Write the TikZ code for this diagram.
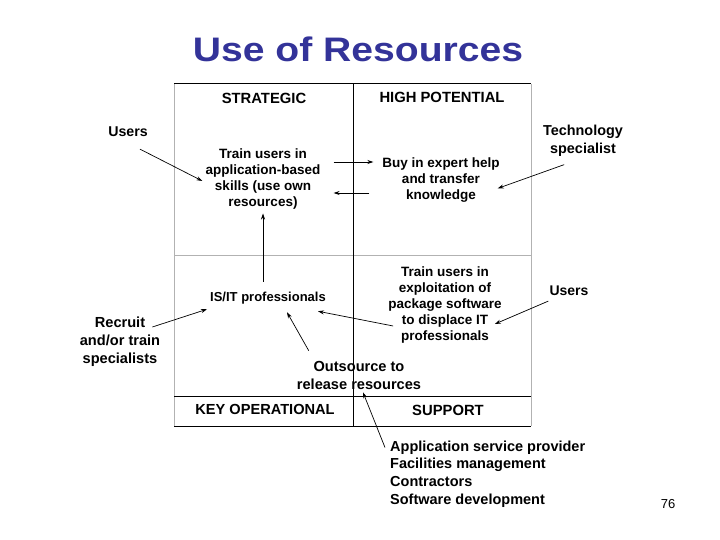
\documentclass[tikz,border=0pt]{standalone}
\usepackage{fontspec}
\setmainfont{Liberation Sans}
\usepackage{xcolor}
\usetikzlibrary{positioning, calc, arrows.meta}

\definecolor{titleblue}{RGB}{51,51,153}

\tikzset{
    lbl/.style={font=\fontsize{13.5}{16}\selectfont\bfseries, align=center, inner sep=1pt},
    lblwide/.style={lbl, font=\fontsize{14.6}{18}\selectfont\bfseries},
    heading/.style={lbl, font=\fontsize{14.8}{18}\selectfont\bfseries},
    gridline/.style={line width=1pt},
    paleline/.style={line width=0.8pt, black!30},
    arr/.style={->, line width=0.7pt},
}

\begin{document}
\begin{tikzpicture}[x=1pt, y=-1pt, >={Stealth[length=6pt,width=4pt]}] % Arrow tip style
    \useasboundingbox (0,0) rectangle (720,540);

    % Title
    \node[font=\fontsize{34}{38}\selectfont\bfseries, text=titleblue, xscale=1.15] (title) at (358,49) {Use of Resources};

    % Corners of the grid
    \coordinate (nw) at (174,84);
    \coordinate (ne) at (531,84);
    \coordinate (sw) at (174,426);
    \coordinate (se) at (531,426);

    % Draw the grid lines
    \draw[paleline] (nw) -- (sw);
    \draw[paleline] (ne) -- (se);
    \draw[paleline] (174,255) -- (531,255);
    \draw[gridline] (nw) -- (ne);
    \draw[gridline] (174,396) -- (531,396);
    \draw[gridline] (sw) -- (se);
    \draw[gridline] (353,84) -- (353,426);

    % Quadrant headings
    \node[heading] (strat) at (264,98) {STRATEGIC};
    \node[heading] (highpot) at (442,97) {HIGH POTENTIAL};
    \node[heading, font=\fontsize{14.6}{18}\selectfont\bfseries] (keyop) at (265,409) {KEY OPERATIONAL};
    \node[heading] (support) at (448,410) {SUPPORT};

    % Texts inside the quadrants
    \node[lbl] (trainapp) at (263,179) {Train users in\\application-based\\skills (use own\\resources)};
    \node[lbl] (buyin) at (441,180) {Buy in expert help\\and transfer\\knowledge};
    \node[lbl, font=\fontsize{13}{16}\selectfont\bfseries] (isit) at (268,298) {IS/IT professionals};
    \node[lbl] (trainpkg) at (445,305) {Train users in\\exploitation of\\package software\\to displace IT\\professionals};
    \node[lblwide] (outsrc) at (359,375) {Outsource to\\release resources};

    % Texts outside the grid
    \node[lbl, font=\fontsize{14.2}{18}\selectfont\bfseries] (usersL) at (128,132) {Users};
    \node[lblwide, font=\fontsize{14.4}{18}\selectfont\bfseries] (tech) at (583,141) {Technology\\specialist};
    \node[lbl, font=\fontsize{14}{18}\selectfont\bfseries] (usersR) at (569,291) {Users};
    \node[lblwide] (recruit) at (120,342) {Recruit\\and/or train\\specialists};
    \node[lbl, font=\fontsize{14.5}{17.7}\selectfont\bfseries, align=left, anchor=west] (sourcing) at (389,474) {Application service provider\\Facilities management\\Contractors\\Software development};
    \node[font=\fontsize{13}{15}\selectfont] (pagenum) at (668,504) {76};

    % Arrows in the upper half
    \draw[arr] ([xshift=12pt,yshift=-11pt]usersL.south) -- ([xshift=-2pt,yshift=-2pt]trainapp.west);
    \draw[arr, shorten <=12pt, shorten >=8pt] ([yshift=17pt]trainapp.east) -- ([yshift=17pt]trainapp.east -| buyin.west);
    \draw[arr, shorten <=12pt, shorten >=12pt] ([yshift=-14pt]trainapp.east -| buyin.west) -- ([yshift=-14pt]trainapp.east);
    \draw[arr, shorten <=20pt] (tech.south) -- ([xshift=-3pt]buyin.-8);
    \draw[arr, shorten <=9pt, shorten >=3pt] (trainapp.south |- isit.north) -- (trainapp.south);

    % Arrows in the lower half
    \draw[arr] ([xshift=-9pt,yshift=-11pt]recruit.north east) -- ([xshift=-2pt,yshift=-4pt]isit.south west);
    \draw[arr] ([xshift=13pt,yshift=9pt]outsrc.north west) -- ([xshift=19pt,yshift=-7pt]isit.south);
    \draw[arr] ([xshift=6pt,yshift=-21pt]trainpkg.west) -- ([xshift=-9pt,yshift=-6pt]isit.south east);
    \draw[arr] ([yshift=-4pt]usersR.south west) -- ([xshift=-8pt,yshift=-19pt]trainpkg.east);
    \draw[arr] ([xshift=-4pt,yshift=-8pt]sourcing.north west) -- ([xshift=4pt,yshift=-2pt]outsrc.south);
\end{tikzpicture}
\end{document}
